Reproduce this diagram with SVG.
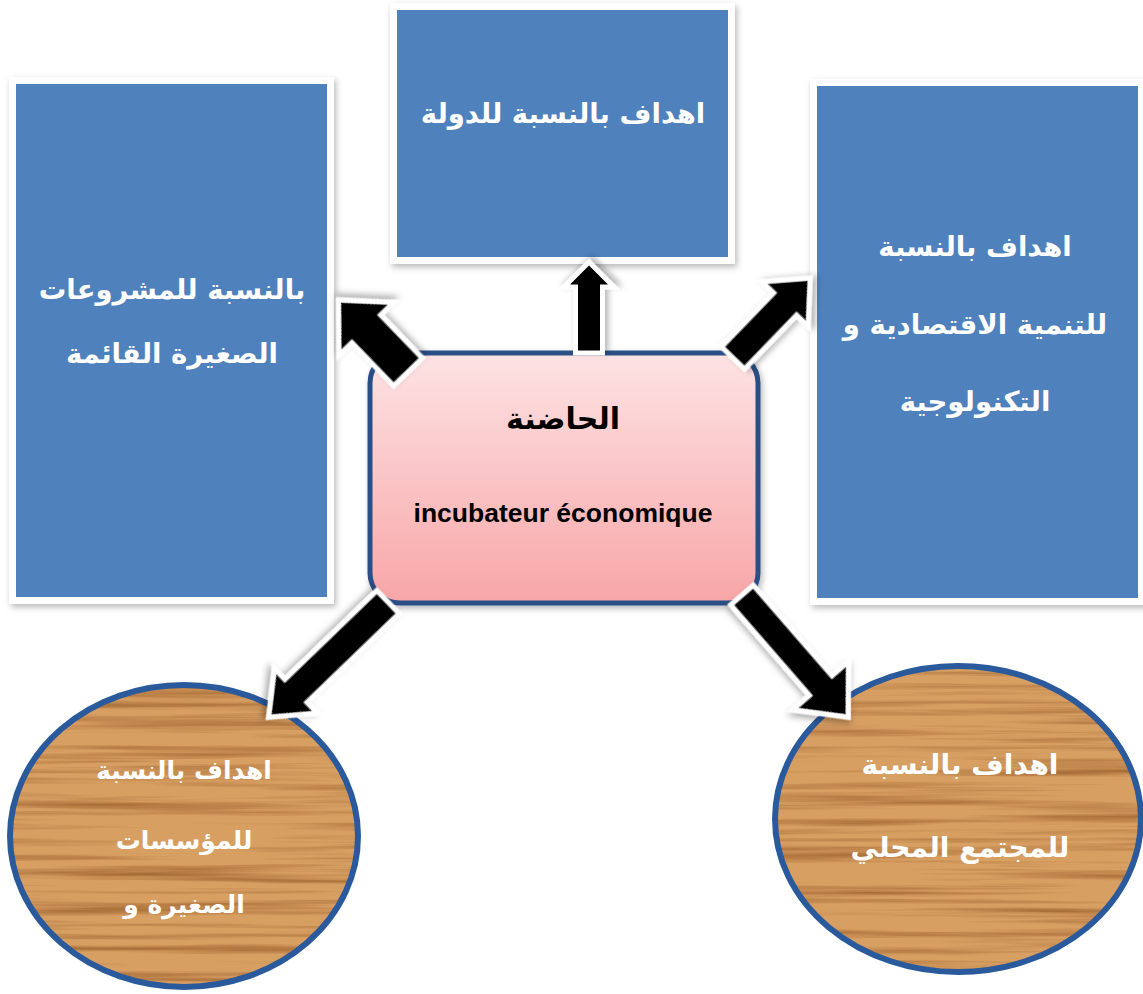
<svg xmlns="http://www.w3.org/2000/svg" width="1143" height="994" viewBox="0 0 1143 994">
<style>
.frame{fill:#ffffff;filter:url(#sh);}
.blue{fill:#4f81bd;}
.ar{font-family:"DejaVu Sans","Noto Sans",sans-serif;font-weight:bold;fill:#ffffff;text-anchor:middle;direction:rtl;}
.box{font-size:27.5px;}
.circ1{font-size:25px;}
.circ2{font-size:28px;}
.arrow{fill:#000000;stroke:#ffffff;stroke-width:5;stroke-linejoin:miter;filter:url(#ash);}
.ring{fill:none;stroke:#2a5a9c;stroke-width:6;}
</style>
<defs>
<filter id="sh" x="-10%" y="-10%" width="125%" height="125%">
<feDropShadow dx="2" dy="3" stdDeviation="3" flood-color="#000" flood-opacity="0.28"/>
</filter>
<filter id="ash" x="-30%" y="-30%" width="160%" height="160%">
<feDropShadow dx="3" dy="3" stdDeviation="3" flood-color="#000" flood-opacity="0.3"/>
</filter>
<filter id="wood" x="0%" y="0%" width="100%" height="100%" color-interpolation-filters="sRGB">
<feTurbulence type="fractalNoise" baseFrequency="0.003 0.13" numOctaves="4" seed="7" result="noise"/>
<feColorMatrix in="noise" type="matrix" values="0 0 0 0 0.55  0 0 0 0 0.32  0 0 0 0 0.12  1.6 0 0 0 -0.72" result="dark"/>
<feComposite in="dark" in2="SourceGraphic" operator="atop"/>
</filter>
<linearGradient id="pink" x1="0" y1="0" x2="0" y2="1">
<stop offset="0" stop-color="#fde3e4"/>
<stop offset="1" stop-color="#f8a6a7"/>
</linearGradient>
</defs>
<rect width="1143" height="994" fill="#ffffff"/>

<g id="node-state">
<rect class="frame" x="390" y="3" width="345" height="261"/>
<rect class="blue" x="397" y="10" width="331" height="247"/>
<text class="ar box" x="563" y="123">اهداف بالنسبة للدولة</text>
</g>

<g id="node-projects">
<rect class="frame" x="9" y="77" width="325" height="527"/>
<rect class="blue" x="16" y="84" width="311" height="513"/>
<text class="ar box" x="172" y="299">بالنسبة للمشروعات</text>
<text class="ar box" x="172" y="363">الصغيرة القائمة</text>
</g>

<g id="node-tech">
<rect class="frame" x="810" y="79" width="340" height="526"/>
<rect class="blue" x="817" y="86" width="321" height="512"/>
<text class="ar box" x="975" y="256">اهداف بالنسبة</text>
<text class="ar box" x="975" y="334">للتنمية الاقتصادية و</text>
<text class="ar box" x="975" y="411">التكنولوجية</text>
</g>

<g id="node-incubator">
<rect x="370" y="353" width="388" height="250" rx="30" ry="30" fill="url(#pink)" stroke="#2b4f86" stroke-width="5" filter="url(#sh)"/>
<text x="563" y="429" font-family="DejaVu Sans,sans-serif" font-weight="bold" font-size="30" fill="#000" text-anchor="middle" direction="rtl">الحاضنة</text>
<text x="563" y="522" font-family="Liberation Sans,Arial,sans-serif" font-weight="bold" font-size="26.5" fill="#000" text-anchor="middle">incubateur économique</text>
</g>

<g id="node-enterprises">
<ellipse cx="184" cy="836" rx="174" ry="151" fill="#d89f63" filter="url(#wood)"/>
<ellipse class="ring" cx="184" cy="836" rx="174" ry="151"/>
<text class="ar circ1" x="184" y="779">اهداف بالنسبة</text>
<text class="ar circ1" x="184" y="849">للمؤسسات</text>
<text class="ar circ1" x="184" y="913">الصغيرة و</text>
</g>

<g id="node-community">
<ellipse cx="958" cy="819" rx="183" ry="153" fill="#d89f63" filter="url(#wood)"/>
<ellipse class="ring" cx="958" cy="819" rx="183" ry="153"/>
<text class="ar circ2" x="960" y="774">اهداف بالنسبة</text>
<text class="ar circ2" x="960" y="857">للمجتمع المحلي</text>
</g>

<g id="connectors">
<path class="arrow" d="M0,-13.5 L66,-13.5 L66,-25 L91,0 L66,25 L66,13.5 L0,13.5 Z" transform="translate(589,353) rotate(-90)"/>
<path class="arrow" d="M0,-20 L60,-20 L60,-38 L100,0 L60,38 L60,20 L0,20 Z" transform="translate(408,372) rotate(-134)"/>
<path class="arrow" d="M0,-16 L75,-16 L75,-32 L111,0 L75,32 L75,16 L0,16 Z" transform="translate(733,358) rotate(-46)"/>
<path class="arrow" d="M0,-16 L128,-16 L128,-31 L166,0 L128,31 L128,16 L0,16 Z" transform="translate(388,602) rotate(136)"/>
<path class="arrow" d="M0,-15 L120,-15 L120,-37 L162,0 L120,37 L120,15 L0,15 Z" transform="translate(742,595) rotate(49)"/>
</g>
</svg>
